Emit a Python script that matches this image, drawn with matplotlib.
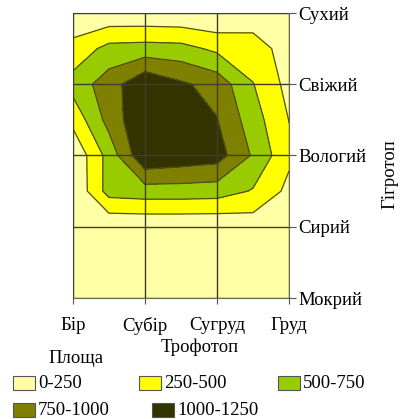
import numpy as np
import matplotlib
matplotlib.use('Agg')
import matplotlib.pyplot as plt
from matplotlib.patches import Rectangle

plt.rcParams['font.family'] = ['Liberation Serif', 'DejaVu Serif']

# categories
trofotop = ['Бір', 'Субір', 'Сугруд', 'Груд']
gigrotop = ['Сухий', 'Свіжий', 'Вологий', 'Сирий', 'Мокрий']

# area values, on a half-step grid
# (columns: Бір .. Груд, rows: Сухий .. Мокрий)
col_pos = [0, 0.5, 1, 1.5, 2, 2.5, 3]
row_pos = [0, 0.5, 1, 1.5, 2, 2.5, 3, 3.5, 4]
area = [
    [56, 48, 43, 30, 5, 130, 50],
    [333, 580, 600, 585, 446, 345, 162],
    [600, 878, 1220, 1041, 904, 510, 168],
    [322, 840, 1240, 1240, 1010, 614, 245],
    [36, 595, 1226, 1170, 1113, 720, 300],
    [20, 600, 636, 636, 620, 480, 185],
    [10, 35, 35, 35, 35, 100, 80],
    [10, 10, 10, 10, 10, 10, 10],
    [5, 5, 5, 5, 5, 5, 5],
]

levels = [0, 250, 500, 750, 1000, 1250]
level_labels = ['0-250', '250-500', '500-750', '750-1000', '1000-1250']
colors = ['#FFFFA6', '#FFFF00', '#99CC00', '#808000', '#333300']

fig = plt.figure(figsize=(4.07, 4.19), dpi=100)
ax = fig.add_axes([73 / 407, 1 - 298 / 419, 216 / 407, 285 / 419])

X, Y = np.meshgrid(col_pos, row_pos)
Z = np.array(area)
ax.contourf(X, Y, Z, levels=levels, colors=colors)
ax.contour(X, Y, Z, levels=levels[1:-1], colors='#4f4f18', linewidths=0.9)

ax.set_xlim(0, 3)
ax.set_ylim(4, 0)
ax.set_xticks(range(len(trofotop)))
ax.set_xticklabels(trofotop, fontsize=13.5)
ax.set_yticks(range(len(gigrotop)))
ax.set_yticklabels(gigrotop, fontsize=13.5)
ax.yaxis.tick_right()
ax.tick_params(axis='x', direction='out', length=4, pad=10, color='#555555')
ax.tick_params(axis='y', direction='out', length=5, pad=2, color='#555555')
ax.grid(True, color='#404028', linewidth=1)
ax.set_axisbelow(False)
for side in ['top', 'left']:
    ax.spines[side].set_color('#a0a0a0')
for side in ['right', 'bottom']:
    ax.spines[side].set_color('#6b6b50')

fig.text(200 / 407, 1 - 347 / 419, 'Трофотоп', fontsize=13.5, ha='center', va='center')
fig.text(390 / 407, 1 - 174 / 419, 'Гігротоп', fontsize=13.5, ha='center', va='center',
         rotation=90)

# legend
fig.text(76 / 407, 1 - 358 / 419, 'Площа', fontsize=13.5, ha='center', va='center')
legend_pos = [(13, 383), (139, 383), (278, 383), (13, 410), (152, 410)]
for (px, py), lab, col in zip(legend_pos, level_labels, colors):
    fig.patches.append(Rectangle((px / 407, 1 - (py + 7) / 419), 22 / 407, 14 / 419,
                                 transform=fig.transFigure, facecolor=col,
                                 edgecolor='#555555', linewidth=0.8))
    fig.text((px + 25) / 407, 1 - py / 419, lab, fontsize=13.5, ha='left', va='center')

fig.savefig('out.png', dpi=100)
